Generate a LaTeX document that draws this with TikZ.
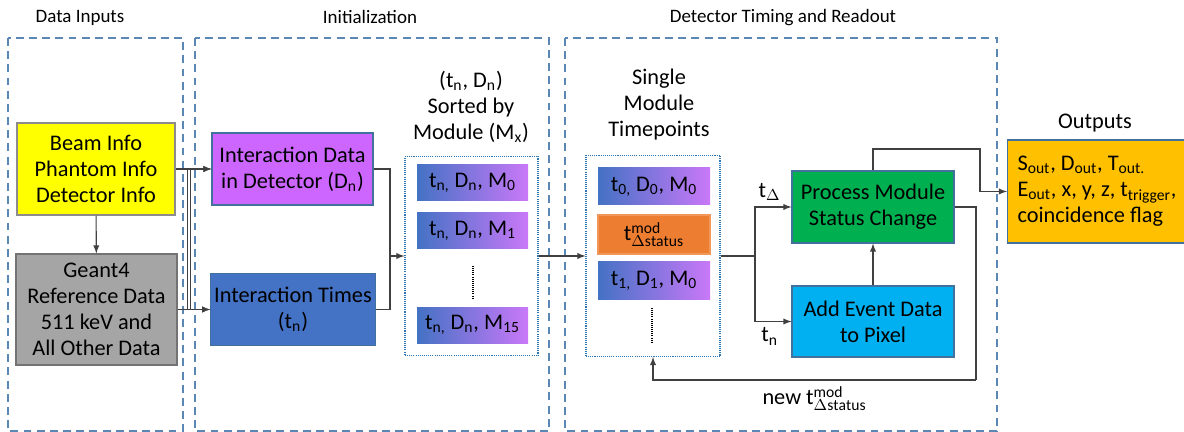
\documentclass[tikz,border=0pt]{standalone}
\usepackage{fontspec}
\setmainfont{Carlito}
\usetikzlibrary{positioning}
\definecolor{frameblue}{HTML}{5B87B5}
\definecolor{dotblue}{HTML}{2E75B6}
\definecolor{edgeblue}{HTML}{41719C}
\definecolor{yellowin}{HTML}{FFFF00}
\definecolor{grayin}{HTML}{A5A5A5}
\definecolor{purpleD}{HTML}{CC66FF}
\definecolor{blueT}{HTML}{4472C4}
\definecolor{gradR}{HTML}{C978F8}
\definecolor{greenP}{HTML}{00B050}
\definecolor{cyanA}{HTML}{00B0F0}
\definecolor{orangeM}{HTML}{ED7D31}
\definecolor{goldO}{HTML}{FFC000}
\tikzset{
  frame/.style={draw=frameblue, line width=1.1pt, dash pattern=on 4.5pt off 3pt},
  title/.style={font=\fontsize{10.8}{15}\selectfont, align=center},
  txt/.style={font=\fontsize{12.7}{14.8}\selectfont, align=center},
  box/.style={txt, draw=edgeblue, line width=0.6pt, inner sep=2pt},
  gradbox/.style={txt, left color=blueT, right color=gradR, draw=none,
    minimum width=2.22cm, minimum height=0.72cm, inner sep=1pt},
  dotbox/.style={draw=dotblue, line width=0.6pt, dash pattern=on 0.6pt off 0.6pt},
  vdots/.style={line width=0.6pt, dash pattern=on 0.6pt off 0.6pt},
  conn/.style={black!75, line width=0.6pt}
}
\begin{document}
\begin{tikzpicture}[>=latex]
        \useasboundingbox (0,0) rectangle (23.68,-8.64);
        % section frames
        \draw [frame] (0.16,-0.76) rectangle (3.66,-8.62);
        \draw [frame] (3.90,-0.76) rectangle (10.98,-8.62);
        \draw [frame] (11.30,-0.76) rectangle (19.94,-8.62);
        \node [title] (tin) at (1.60,-0.36) {Data Inputs};
        \node [title] (tinit) at (7.40,-0.34) {Initialization};
        \node [title] (tdet) at (15.66,-0.36) {Detector Timing and Readout};
        \node [txt] (tout) at (21.90,-2.46) {Outputs};

        % data inputs
        \node [box, draw=black!45, fill=yellowin, minimum width=3.16cm, minimum height=1.84cm] (beam) at (1.92,-3.38) {Beam Info\\Phantom Info\\Detector Info};
        \node [box, draw=black!55, fill=grayin, minimum width=3.22cm, minimum height=2.22cm] (geant) at (1.93,-6.19) {Geant4\\Reference Data\\511 keV and\\All Other Data};

        % initialization
        \node [box, fill=purpleD, minimum width=3.22cm, minimum height=1.44cm] (detdata) at (5.85,-3.38) {Interaction Data\\in Detector (D\textsubscript{n})};
        \node [box, fill=blueT, minimum width=3.24cm, minimum height=1.44cm] (times) at (5.86,-6.19) {Interaction Times\\(t\textsubscript{n})};
        \node [dotbox, minimum width=2.66cm, minimum height=3.98cm] (sortbox) at (9.43,-5.12) {};
        \node [gradbox] (m0) at (9.45,-3.66) {t\textsubscript{n,} D\textsubscript{n}, M\textsubscript{0}};
        \node [gradbox] (m1) at (9.45,-4.62) {t\textsubscript{n,} D\textsubscript{n}, M\textsubscript{1}};
        \node [gradbox] (m15) at (9.45,-6.50) {t\textsubscript{n,} D\textsubscript{n}, M\textsubscript{15}};
        \draw [vdots] (9.46,-5.32) -- (9.46,-5.96);
        \node [txt] (sortlabel) at (9.42,-2.14) {(t\textsubscript{n}, D\textsubscript{n})\\Sorted by\\Module (M\textsubscript{x})};

        % detector timing and readout
        \node [dotbox, minimum width=2.68cm, minimum height=4.02cm] (tpbox) at (13.06,-5.12) {};
        \node [gradbox, minimum height=0.74cm, minimum width=2.24cm] (p0) at (13.08,-3.73) {t\textsubscript{0,} D\textsubscript{0}, M\textsubscript{0}};
        \node [box, draw=orangeM!80!white, fill=orangeM, minimum width=2.24cm, minimum height=0.78cm, inner sep=1pt] (pmod) at (13.08,-4.69) {t$^{\mathrm{mod}}_{\Delta\mathrm{status}}$};
        \node [gradbox, minimum height=0.74cm, minimum width=2.24cm] (p1) at (13.08,-5.61) {t\textsubscript{1,} D\textsubscript{1}, M\textsubscript{0}};
        \draw [vdots] (13.04,-6.16) -- (13.04,-6.86);
        \node [txt] (tplabel) at (13.18,-2.10) {Single\\Module\\Timepoints};
        \node [box, fill=greenP, minimum width=3.24cm, minimum height=1.44cm] (process) at (17.46,-4.14) {Process Module\\Status Change};
        \node [box, fill=cyanA, minimum width=3.24cm, minimum height=1.42cm] (addevent) at (17.46,-6.43) {Add Event Data\\to Pixel};

        % outputs
        \node [box, fill=goldO, anchor=west, minimum width=3.58cm, minimum height=2.06cm, align=left] (outputs) at (20.14,-3.83) {S\textsubscript{out}, D\textsubscript{out}, T\textsubscript{out.}\\E\textsubscript{out}, x, y, z, t\textsubscript{trigger},\\coincidence flag};

        % connectors
        \coordinate (merge) at (7.80,-5.12);
        \coordinate (split) at (15.10,-5.12);
        \coordinate (outA) at (19.60,-2.98);
        \coordinate (fbA) at (19.52,-7.60);
        \draw [conn, ->] (beam) -- (geant);
        \draw [conn, ->] (beam.east) -- (detdata.west);
        \draw [conn, ->] (geant.east) -- (times.west);
        \draw [conn, ->] (beam.east) -- ++(0.24,0) |- (times.west);
        \draw [conn, ->] (geant.east) -- ++(0.26,0) |- (detdata.west);
        \draw [conn] (detdata.east) -| (merge);
        \draw [conn] (times.east) -| (merge);
        \draw [conn, ->] (merge) -- (sortbox.west);
        \draw [conn, ->] (sortbox.east) -- (tpbox.west);
        \draw [conn] (tpbox.east) -- (split);
        \draw [conn, ->] (split) |- node[pos=0.7, above, txt, black]{t\textsubscript{$\Delta$}} (process.west);
        \draw [conn, ->] (split) |- node[pos=0.7, below, txt, black]{t\textsubscript{n}} (addevent.west);
        \draw [conn, ->] (addevent) -- (process);
        \draw [conn, ->] (process.north) |- (outA) |- (outputs.west);
        \draw [conn] (process.east) -| (fbA);
        \draw [conn, ->] (fbA) -| node[pos=0.25, below, txt, black]{new t$^{\mathrm{mod}}_{\Delta\mathrm{status}}$} (tpbox.south);

\end{tikzpicture}
\end{document}
